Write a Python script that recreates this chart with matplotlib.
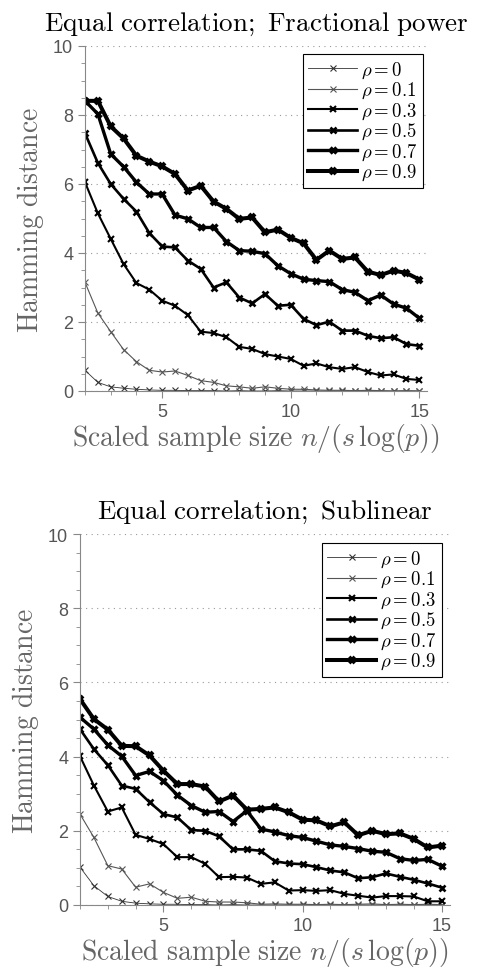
import numpy as np
import matplotlib
matplotlib.use('Agg')
from matplotlib import pyplot as plt
from matplotlib.ticker import MultipleLocator

plt.rcParams['mathtext.fontset'] = 'cm'
plt.rcParams['font.family'] = ['Liberation Sans', 'DejaVu Sans']

# scaled sample size, 0.5 steps from 2 to 15
x_vals = [2.0, 2.5, 3.0, 3.5, 4.0, 4.5, 5.0, 5.5, 6.0, 6.5, 7.0, 7.5, 8.0, 8.5,
          9.0, 9.5, 10.0, 10.5, 11.0, 11.5, 12.0, 12.5, 13.0, 13.5, 14.0, 14.5, 15.0]
rho_labels = ['0', '0.1', '0.3', '0.5', '0.7', '0.9']

# Fractional power panel
frac_rho0 = [0.60, 0.25, 0.12, 0.08, 0.05, 0.03, 0.02, 0.02, 0.01, 0.01, 0.01, 0.0, 0.01,
             0.0, 0.0, 0.01, 0.0, 0.0, 0.0, 0.0, 0.0, 0.0, 0.0, 0.0, 0.0, 0.0, 0.0]
frac_rho01 = [3.15, 2.26, 1.72, 1.20, 0.85, 0.60, 0.55, 0.58, 0.45, 0.30, 0.25, 0.15, 0.12,
              0.08, 0.12, 0.08, 0.05, 0.05, 0.03, 0.02, 0.02, 0.01, 0.02, 0.01, 0.0, 0.01, 0.0]
frac_rho03 = [6.05, 5.15, 4.41, 3.68, 3.13, 2.94, 2.62, 2.47, 2.20, 1.72, 1.68, 1.56, 1.28,
              1.22, 1.07, 1.00, 0.93, 0.73, 0.80, 0.69, 0.64, 0.69, 0.55, 0.45, 0.48, 0.35, 0.32]
frac_rho05 = [7.47, 6.61, 6.00, 5.57, 5.20, 4.58, 4.19, 4.16, 3.78, 3.54, 3.00, 3.15, 2.71,
              2.54, 2.81, 2.47, 2.50, 2.09, 1.91, 2.01, 1.75, 1.75, 1.60, 1.53, 1.56, 1.36, 1.31]
frac_rho07 = [8.41, 8.03, 6.87, 6.50, 6.05, 5.71, 5.71, 5.10, 4.99, 4.74, 4.74, 4.33, 4.07,
              4.05, 3.98, 3.63, 3.40, 3.24, 3.20, 3.17, 2.94, 2.86, 2.62, 2.78, 2.52, 2.40, 2.11]
frac_rho09 = [8.41, 8.41, 7.67, 7.32, 6.82, 6.65, 6.51, 6.29, 5.81, 5.95, 5.49, 5.28, 4.99,
              5.03, 4.60, 4.68, 4.44, 4.28, 3.80, 4.07, 3.83, 3.87, 3.46, 3.36, 3.49, 3.42, 3.23]

# Sublinear panel
sub_rho0 = [1.02, 0.52, 0.23, 0.10, 0.05, 0.03, 0.02, 0.02, 0.01, 0.01, 0.0, 0.01, 0.0,
            0.0, 0.0, 0.0, 0.0, 0.0, 0.0, 0.0, 0.0, 0.0, 0.0, 0.0, 0.0, 0.0, 0.0]
sub_rho01 = [2.45, 1.82, 1.06, 0.97, 0.48, 0.57, 0.34, 0.18, 0.21, 0.10, 0.08, 0.08, 0.06,
             0.02, 0.03, 0.02, 0.02, 0.01, 0.02, 0.01, 0.02, 0.03, 0.01, 0.02, 0.01, 0.02, 0.01]
sub_rho03 = [4.01, 3.22, 2.52, 2.63, 1.89, 1.78, 1.64, 1.29, 1.29, 1.11, 0.75, 0.76, 0.74,
             0.57, 0.61, 0.39, 0.40, 0.38, 0.40, 0.30, 0.25, 0.20, 0.24, 0.24, 0.23, 0.10, 0.10]
sub_rho05 = [4.74, 4.20, 3.77, 3.22, 3.13, 2.77, 2.45, 2.36, 2.02, 2.00, 1.85, 1.50, 1.50,
             1.46, 1.18, 1.12, 1.10, 1.02, 0.93, 0.88, 0.72, 0.75, 0.85, 0.76, 0.68, 0.58, 0.47]
sub_rho07 = [5.06, 4.74, 4.31, 4.01, 3.49, 3.60, 3.35, 2.96, 2.68, 2.50, 2.52, 2.25, 2.54,
             2.05, 1.97, 1.87, 1.82, 1.72, 1.62, 1.58, 1.52, 1.45, 1.42, 1.25, 1.20, 1.23, 1.05]
sub_rho09 = [5.55, 5.01, 4.73, 4.29, 4.28, 4.03, 3.62, 3.26, 3.26, 3.19, 2.79, 2.95, 2.57,
             2.59, 2.63, 2.50, 2.30, 2.28, 2.12, 2.23, 1.88, 2.00, 1.91, 1.93, 1.78, 1.55, 1.60]

frac_series = [frac_rho0, frac_rho01, frac_rho03, frac_rho05, frac_rho07, frac_rho09]
sub_series = [sub_rho0, sub_rho01, sub_rho03, sub_rho05, sub_rho07, sub_rho09]

line_widths = [0.6, 0.8, 1.5, 1.9, 2.4, 2.9]
line_colors = ['#333333', '#555555', 'black', 'black', 'black', 'black']

fig = plt.figure(figsize=(4.95, 9.79), dpi=100)
ax_top = fig.add_axes([85 / 495, 1 - 392 / 979, 342 / 495, 345 / 979])
ax_bot = fig.add_axes([80 / 495, 1 - 906 / 979, 370 / 495, 371 / 979])

panels = [
    (ax_top, frac_series, r'$\mathrm{Equal\ correlation;\ Fractional\ power}$', (0.988, 0.977)),
    (ax_bot, sub_series, r'$\mathrm{Equal\ correlation;\ Sublinear}$', (0.978, 0.976)),
]

for ax, series, title, leg_anchor in panels:
    for vals, lab, lw, col in zip(series, rho_labels, line_widths, line_colors):
        ax.plot(x_vals, vals, color=col, lw=lw, marker='x', ms=4.5, mew=max(lw, 0.8),
                label=r'$\rho = %s$' % lab)

    ax.set_xlim(2, 15.3)
    ax.set_ylim(0, 10)
    ax.xaxis.set_major_locator(MultipleLocator(5))
    ax.xaxis.set_minor_locator(MultipleLocator(1))
    ax.yaxis.set_major_locator(MultipleLocator(2))
    ax.yaxis.set_minor_locator(MultipleLocator(0.5))
    ax.grid(axis='y', which='major', color='#999999', lw=0.8, linestyle=(0, (1, 4)))
    ax.set_axisbelow(True)

    for side in ['top', 'right']:
        ax.spines[side].set_visible(False)
    for side in ['left', 'bottom']:
        ax.spines[side].set_color('#888888')
    ax.tick_params(which='both', direction='out', colors='#888888', labelcolor='#555555',
                   labelsize=13)
    ax.tick_params(which='major', length=5)
    ax.tick_params(which='minor', length=3)

    ax.set_title(title, fontsize=19.5, pad=12, color='black')
    ax.set_xlabel(r'$\mathrm{Scaled\ sample\ size}\ n/(s\,\log(p))$', fontsize=20,
                  color='#666666', labelpad=1)
    ax.set_ylabel(r'$\mathrm{Hamming\ distance}$', fontsize=20, color='#666666', labelpad=5)

    leg = ax.legend(loc='upper right', bbox_to_anchor=leg_anchor, borderaxespad=0,
                    fontsize=13.5, handlelength=2.6, handletextpad=0.2, labelspacing=0.0,
                    borderpad=0.3, numpoints=1, fancybox=False, framealpha=1)
    leg.get_frame().set_edgecolor('black')
    leg.get_frame().set_linewidth(0.8)

fig.savefig('out.png', dpi=100)
